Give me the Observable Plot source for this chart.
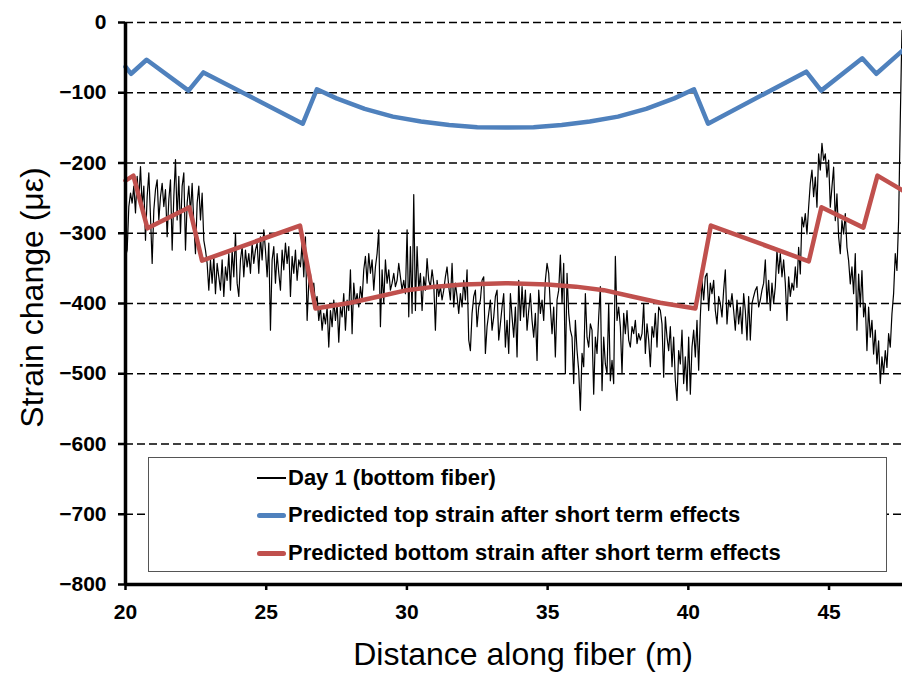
<!DOCTYPE html>
<html><head><meta charset="utf-8">
<script src="https://cdn.jsdelivr.net/npm/d3@7"></script>
<script src="https://cdn.jsdelivr.net/npm/@observablehq/plot@0.6"></script>
<style>
body{margin:0;background:#fff;}
#wrap{position:relative;width:902px;height:673px;font-family:"Liberation Sans",Arial,sans-serif;}
#legend{position:absolute;left:148px;top:457px;width:737px;height:113px;border:1px solid #555;background:#fff;}
.row{position:absolute;left:108px;height:30px;display:flex;align-items:center;font-weight:bold;font-size:22px;color:#000;white-space:nowrap;}
.sw{width:29px;margin-right:2px;}
</style></head><body><div id="wrap"></div>
<script>
// Tick values
const xTicks = [20, 25, 30, 35, 40, 45];
const yTicks = [-800, -700, -600, -500, -400, -300, -200, -100, 0];
const gridVals = [-700, -600, -500, -400, -300, -200, -100, 0];

// Series names
const seriesNames = ["Day 1 (bottom fiber)", "Predicted top strain after short term effects", "Predicted bottom strain after short term effects"];
const seriesColors = ["#000000", "#4F81BD", "#C0504D"];

// Predicted top strain
const topX = [20, 20.2, 20.75, 22.24, 22.77, 26.3, 26.8, 27.5, 28.5, 29.5, 30.5, 31.5, 32.5, 33.5, 34.5, 35.5, 36.5, 37.5, 38.5, 39.5, 40.2, 40.7, 44.19, 44.72, 46.18, 46.68, 47.61];
const topY = [-63, -73, -53, -97, -71, -144, -95, -108, -123, -134, -141, -146, -149, -149.5, -149, -146, -141, -134, -123, -108, -95, -144, -70, -97, -51, -73, -40];

// Predicted bottom strain
const botX = [20, 20.28, 20.78, 22.27, 22.72, 26.2, 26.75, 28, 29, 30, 31, 32, 33.5, 35, 36, 37, 38, 39, 40.25, 40.8, 44.28, 44.73, 46.22, 46.72, 47.61];
const botY = [-225, -218, -293, -263, -339, -289, -407, -399, -390, -381, -376, -373, -371, -373, -376, -381, -390, -399, -407, -289, -340, -263, -292, -218, -239];

// Day 1 measured strain (uniform fiber sampling)
const day1Start = 20;
const day1Step = 0.059206;
const day1Vals = [
-333,-324,-262,-243,-257,-233,-271,-219,-252,-205,
-262,-233,-310,-248,-214,-276,-343,-267,-238,-224,
-281,-248,-229,-262,-238,-305,-252,-224,-324,-248,
-195,-281,-219,-300,-233,-214,-324,-257,-233,-271,
-229,-286,-329,-257,-233,-281,-243,-310,-324,-343,
-381,-338,-371,-333,-386,-343,-362,-381,-338,-390,
-348,-367,-329,-381,-324,-362,-300,-371,-390,-338,
-319,-362,-324,-348,-329,-357,-314,-343,
-324,-314,-357,-305,-338,-295,-324,-362,-314,-438,
-338,-319,-371,-329,-357,-381,-324,-352,-314,-343,
-319,-390,-333,-357,-324,-367,-338,-348,-314,-362,
-305,-424,-371,-357,-386,-371,-400,-390,-424,-405,
-438,-414,-429,-405,-462,-410,-433,-395,-424,-400,
-455,-405,-419,-386,-438,-395,-410,-352,-443,-371,
-400,-386,-405,-376,-395,-352,-333,-371,-329,-357,
-338,-381,-348,-329,-295,-433,-352,-400,-338,-371,-352,
-381,-371,-357,-376,-367,-343,-362,-381,-367,-386,
-295,-419,-319,-414,-245,-410,-319,-381,-357,-410,
-362,-381,-336,-367,-376,-352,-371,-438,-367,-390,
-376,-395,-381,-362,-348,-376,-395,-343,-405,-371,
-390,-414,-386,-405,-367,-395,-352,-452,-467,-414,
-390,-381,-433,-405,-395,-367,-362,-471,-433,-414,
-395,-438,-419,-390,-381,-452,-429,-405,-386,-462,
-424,-471,-386,-419,-448,-405,-476,-367,-424,-376,-419,
-381,-438,-410,-386,-424,-448,-414,-481,-381,-414,
-395,-424,-367,-343,-357,-405,-443,-405,-476,-395,
-381,-331,-400,-343,-500,-357,-414,-438,-448,-514,
-424,-467,-495,-552,-471,-490,-386,-448,-462,-429,
-438,-529,-448,-471,-419,-376,-524,-448,-486,-500,
-400,-510,-481,-514,-333,-424,-405,-433,-500,-414,
-443,-410,-452,-462,-433,-443,-424,-457,-443,-452,
-443,-400,-471,-429,-452,-490,-433,-448,-414,-462,-405,
-410,-429,-505,-419,-448,-467,-433,-490,-448,-510,
-538,-467,-486,-438,-514,-476,-524,-448,-529,-462,
-438,-476,-424,-495,-419,-367,-395,-362,-357,-410,
-371,-386,-367,-410,-429,-390,-400,-419,-381,-352,
-429,-395,-405,-386,-410,-438,-395,-429,-405,-443,
-386,-410,-452,-390,-452,-400,-390,-381,-376,-405,
-395,-381,-371,-338,-400,-367,-410,-371,-400,-376,
-324,-357,-329,-362,-338,-371,-424,-362,-390,-371,-381,
-348,-377,-320,-358,-277,-291,-272,-301,-263,-229,
-210,-248,-220,-263,-187,-210,-172,-196,-187,-220,
-196,-263,-234,-206,-282,-244,-305,-329,-282,-301,
-272,-320,-339,-372,-348,-386,-329,-438,-358,-405,
-353,-419,-400,-467,-405,-448,-424,-472,-438,-486,
-453,-514,-476,-500,-467,-491,-443,-462,-415,-386,
-329,-353,-282,-139,-11
];

const day1 = day1Vals.map((v, i) => ({x: day1Start + i * day1Step, y: v}));
const topLine = topX.map((x, i) => ({x, y: topY[i]}));
const botLine = botX.map((x, i) => ({x, y: botY[i]}));

const chart = Plot.plot({
  width: 902,
  height: 673,
  marginTop: 22,
  marginRight: 0,
  marginBottom: 89,
  marginLeft: 125,
  style: {fontFamily: "'Liberation Sans', Arial, sans-serif", color: "#000", background: "#fff", overflow: "visible"},
  x: {domain: [20, 47.61], axis: null},
  y: {domain: [-800, 0], axis: null},
  marks: [
    Plot.ruleY(gridVals, {stroke: "#000", strokeWidth: 1.6, strokeDasharray: "8,4"}),
    Plot.line(day1, {x: "x", y: "y", stroke: seriesColors[0], strokeWidth: 1.2}),
    Plot.line(topLine, {x: "x", y: "y", stroke: seriesColors[1], strokeWidth: 4.5, strokeLinejoin: "round"}),
    Plot.line(botLine, {x: "x", y: "y", stroke: seriesColors[2], strokeWidth: 4.5, strokeLinejoin: "round"}),
    Plot.ruleX([20], {stroke: "#000", strokeWidth: 3.5}),
    Plot.ruleY([-800], {stroke: "#000", strokeWidth: 3.5}),
    Plot.axisY(yTicks, {tickSize: 7, tickPadding: 12, strokeWidth: 2.5, fontSize: 21, fontWeight: "bold", label: null}),
    Plot.axisX(xTicks, {tickSize: 6, tickPadding: 14, strokeWidth: 2.5, fontSize: 21, fontWeight: "bold", label: null}),
    Plot.text(["Distance along fiber (m)"], {text: d => d, frameAnchor: "bottom", textAnchor: "middle", dy: 80, dx: 9, fontSize: 32}),
    Plot.text(["Strain change (με)"], {text: d => d, frameAnchor: "left", textAnchor: "middle", lineAnchor: "middle", dx: -93, dy: -6, rotate: -90, fontSize: 32})
  ]
});

const wrap = document.getElementById("wrap");
wrap.appendChild(chart);

// Legend
const legend = document.createElement("div");
legend.id = "legend";
const rowCenters = [20, 57, 95];
const swH = [1.6, 5, 5];
seriesNames.forEach((name, i) => {
  const row = document.createElement("div");
  row.className = "row";
  row.style.top = (rowCenters[i] - 15) + "px";
  const sw = document.createElement("div");
  sw.className = "sw";
  sw.style.height = swH[i] + "px";
  sw.style.background = seriesColors[i];
  sw.style.borderRadius = i ? "3px" : "0";
  const tx = document.createElement("span");
  tx.textContent = name;
  row.appendChild(sw);
  row.appendChild(tx);
  legend.appendChild(row);
});
wrap.appendChild(legend);
</script></body></html>
